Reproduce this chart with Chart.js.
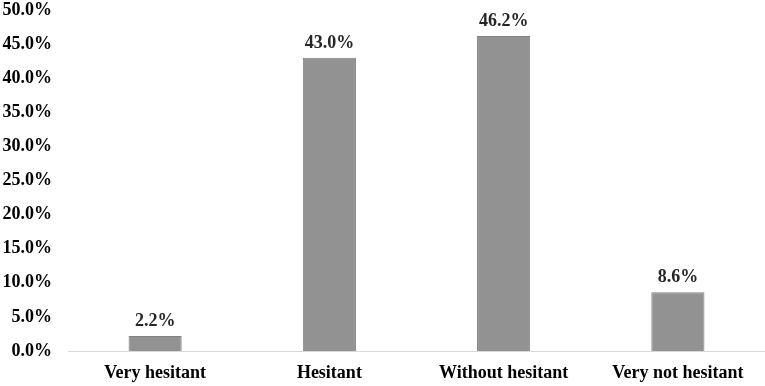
<!DOCTYPE html>
<html>
<head>
<meta charset="utf-8">
<script src="https://cdn.jsdelivr.net/npm/chart.js@4/dist/chart.umd.min.js"></script>
<style>
  html, body { margin: 0; padding: 0; background: #fff; }
  #wrap { width: 765px; height: 386px; }
</style>
</head>
<body>
<div id="wrap"><canvas id="canvas"></canvas></div>
<script>
const categories = ['Very hesitant', 'Hesitant', 'Without hesitant', 'Very not hesitant'];
const shares = [2.2, 43.0, 46.2, 8.6];
const yMax = 50;
const yStep = 5;

const FONT = '"Liberation Serif", "Times New Roman", serif';

// value labels on top of each bar
const barLabels = {
  id: 'barLabels',
  afterDatasetsDraw(chart) {
    const ctx = chart.ctx;
    const meta = chart.getDatasetMeta(0);
    ctx.save();
    ctx.font = 'bold 18px ' + FONT;
    ctx.fillStyle = '#262626';
    ctx.textAlign = 'center';
    ctx.textBaseline = 'alphabetic';
    meta.data.forEach((bar, i) => {
      ctx.fillText(shares[i].toFixed(1) + '%', bar.x, bar.y - 10);
    });
    ctx.restore();
  }
};

new Chart(document.getElementById('canvas'), {
  type: 'bar',
  data: {
    labels: categories,
    datasets: [{
      data: shares,
      backgroundColor: '#929292',
      borderColor: '#808080',
      borderWidth: 1,
      categoryPercentage: 1,
      barPercentage: 0.305
    }]
  },
  options: {
    responsive: true,
    maintainAspectRatio: false,
    animation: false,
    layout: { padding: { top: 10, left: 0, right: 0, bottom: 0 } },
    plugins: { legend: { display: false }, tooltip: { enabled: false } },
    scales: {
      x: {
        grid: { display: false },
        border: { display: true, color: '#d9d9d9', width: 1 },
        ticks: { color: '#000', font: { family: FONT, size: 18, weight: 'bold' }, padding: 4, maxRotation: 0 },
        afterFit(s) { s.height = 35; s.paddingLeft = 0; s.paddingRight = 0; }
      },
      y: {
        min: 0,
        max: yMax,
        grid: { display: false, drawTicks: false },
        border: { display: false },
        ticks: {
          stepSize: yStep,
          color: '#000',
          padding: 16,
          font: { family: FONT, size: 18, weight: 'bold' },
          callback: v => v.toFixed(1) + '%'
        },
        afterFit(s) { s.width = 68; s.paddingTop = 0; s.paddingBottom = 0; }
      }
    }
  },
  plugins: [barLabels]
});
</script>
</body>
</html>
